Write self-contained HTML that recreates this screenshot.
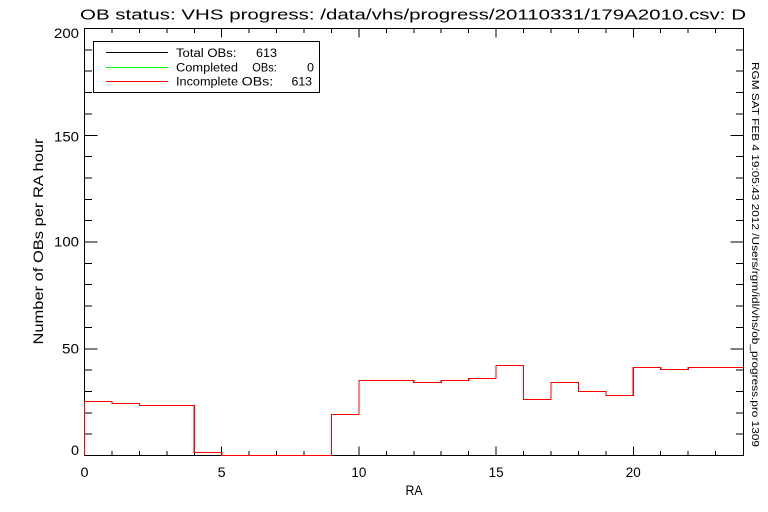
<!DOCTYPE html>
<html><head><meta charset="utf-8"><style>
html,body{margin:0;padding:0;background:#fff;}
svg{display:block;}
text{font-family:"Liberation Sans",sans-serif;fill:#000;}
</style></head><body>
<svg width="768" height="512" viewBox="0 0 768 512" xmlns="http://www.w3.org/2000/svg">
<rect width="768" height="512" fill="#fff"/>
<!-- title -->
<text x="80" y="19.5" font-size="15" textLength="666" lengthAdjust="spacingAndGlyphs">OB status: VHS progress: /data/vhs/progress/20110331/179A2010.csv: D</text>

<g stroke="#000" stroke-width="1" fill="none" shape-rendering="crispEdges">
<rect x="84.5" y="28.5" width="659" height="427"/>
<!-- bottom ticks -->
<path d="M84.5,455.5V446.5 M221.7,455.5V446.5 M358.9,455.5V446.5 M496.1,455.5V446.5 M633.3,455.5V446.5
M111.9,455.5V451 M139.4,455.5V451 M166.8,455.5V451 M194.3,455.5V451
M249.1,455.5V451 M276.6,455.5V451 M304,455.5V451 M331.5,455.5V451
M386.3,455.5V451 M413.8,455.5V451 M441.2,455.5V451 M468.7,455.5V451
M523.5,455.5V451 M551,455.5V451 M578.4,455.5V451 M605.9,455.5V451
M660.7,455.5V451 M688.2,455.5V451 M715.6,455.5V451"/>
<!-- top ticks -->
<path d="M221.7,28.5V37.5 M358.9,28.5V37.5 M496.1,28.5V37.5 M633.3,28.5V37.5
M111.9,28.5V33 M139.4,28.5V33 M166.8,28.5V33 M194.3,28.5V33
M249.1,28.5V33 M276.6,28.5V33 M304,28.5V33 M331.5,28.5V33
M386.3,28.5V33 M413.8,28.5V33 M441.2,28.5V33 M468.7,28.5V33
M523.5,28.5V33 M551,28.5V33 M578.4,28.5V33 M605.9,28.5V33
M660.7,28.5V33 M688.2,28.5V33 M715.6,28.5V33"/>
<!-- left ticks -->
<path d="M84.5,348.8H97.5 M84.5,242H97.5 M84.5,135.3H97.5
M84.5,434.2H92 M84.5,412.8H92 M84.5,391.5H92 M84.5,370.1H92
M84.5,327.4H92 M84.5,306.1H92 M84.5,284.7H92 M84.5,263.3H92
M84.5,220.6H92 M84.5,199.3H92 M84.5,177.9H92 M84.5,156.6H92
M84.5,113.9H92 M84.5,92.5H92 M84.5,71.2H92 M84.5,49.8H92"/>
<!-- right ticks -->
<path d="M743.5,348.8H730.5 M743.5,242H730.5 M743.5,135.3H730.5
M743.5,434.2H736 M743.5,412.8H736 M743.5,391.5H736 M743.5,370.1H736
M743.5,327.4H736 M743.5,306.1H736 M743.5,284.7H736 M743.5,263.3H736
M743.5,220.6H736 M743.5,199.3H736 M743.5,177.9H736 M743.5,156.6H736
M743.5,113.9H736 M743.5,92.5H736 M743.5,71.2H736 M743.5,49.8H736"/>
</g>

<!-- histogram -->
<path d="M84.5,455.5 V401.5 H111.9 V403.5 H139.4 V405.5 H194.3 V452.5 H221.7 V455.5 H331.5 V414.5 H358.9 V380.5 H413.8 V382.5 H441.2 V380.5 H468.7 V378.5 H496.1 V365.5 H523.5 V399.5 H551 V382.5 H578.4 V391.5 H605.9 V395.5 H633.3 V367.5 H660.7 V369.5 H688.2 V367.5 H743.5" fill="none" stroke="#ff0000" stroke-width="1.2" shape-rendering="crispEdges"/>

<!-- y tick labels -->
<g font-size="13.5" text-anchor="end">
<text x="79" y="38" textLength="25" lengthAdjust="spacingAndGlyphs">200</text>
<text x="79" y="141.7" textLength="25" lengthAdjust="spacingAndGlyphs">150</text>
<text x="79" y="246.7" textLength="25" lengthAdjust="spacingAndGlyphs">100</text>
<text x="79" y="353.3" textLength="17" lengthAdjust="spacingAndGlyphs">50</text>
<text x="79" y="455" textLength="8" lengthAdjust="spacingAndGlyphs">0</text>
</g>
<!-- x tick labels -->
<g font-size="13.5" text-anchor="middle">
<text x="84.5" y="477" textLength="8" lengthAdjust="spacingAndGlyphs">0</text>
<text x="221.7" y="477" textLength="8" lengthAdjust="spacingAndGlyphs">5</text>
<text x="358.9" y="477" textLength="15" lengthAdjust="spacingAndGlyphs">10</text>
<text x="496.1" y="477" textLength="15" lengthAdjust="spacingAndGlyphs">15</text>
<text x="633.3" y="477" textLength="15" lengthAdjust="spacingAndGlyphs">20</text>
<text x="414" y="495" textLength="17" lengthAdjust="spacingAndGlyphs">RA</text>
</g>

<!-- y axis title -->
<text transform="translate(43,241.5) rotate(-90)" font-size="14" text-anchor="middle" textLength="206" lengthAdjust="spacingAndGlyphs">Number of OBs per RA hour</text>

<!-- right vertical stamp -->
<text transform="translate(752,62) rotate(90)" font-size="10.5" textLength="385" lengthAdjust="spacingAndGlyphs">RGM SAT FEB  4 19:05:43 2012 /Users/rgm/idl/vhs/ob_progress.pro 1309</text>

<!-- legend -->
<rect x="93.5" y="41.5" width="226" height="51" fill="#fff" stroke="#000" stroke-width="1" shape-rendering="crispEdges"/>
<g stroke-width="1" shape-rendering="crispEdges">
<line x1="106" y1="52.5" x2="168" y2="52.5" stroke="#000"/>
<line x1="106" y1="67.5" x2="168" y2="67.5" stroke="#00ff00"/>
<line x1="106" y1="81.5" x2="168" y2="81.5" stroke="#ff0000"/>
</g>
<g font-size="11.5">
<text x="176" y="57" textLength="60.5" lengthAdjust="spacingAndGlyphs">Total OBs:</text>
<text x="277" y="57" text-anchor="end" textLength="21" lengthAdjust="spacingAndGlyphs">613</text>
<text x="176" y="71.5" textLength="62" lengthAdjust="spacingAndGlyphs">Completed</text>
<text x="252.3" y="71.5" textLength="24.5" lengthAdjust="spacingAndGlyphs">OBs:</text>
<text x="314" y="71.5" text-anchor="end" textLength="7" lengthAdjust="spacingAndGlyphs">0</text>
<text x="176" y="85.7" textLength="62" lengthAdjust="spacingAndGlyphs">Incomplete</text>
<text x="241.7" y="85.7" textLength="31.5" lengthAdjust="spacingAndGlyphs">OBs:</text>
<text x="312" y="85.7" text-anchor="end" textLength="20.5" lengthAdjust="spacingAndGlyphs">613</text>
</g>
</svg>
</body></html>
